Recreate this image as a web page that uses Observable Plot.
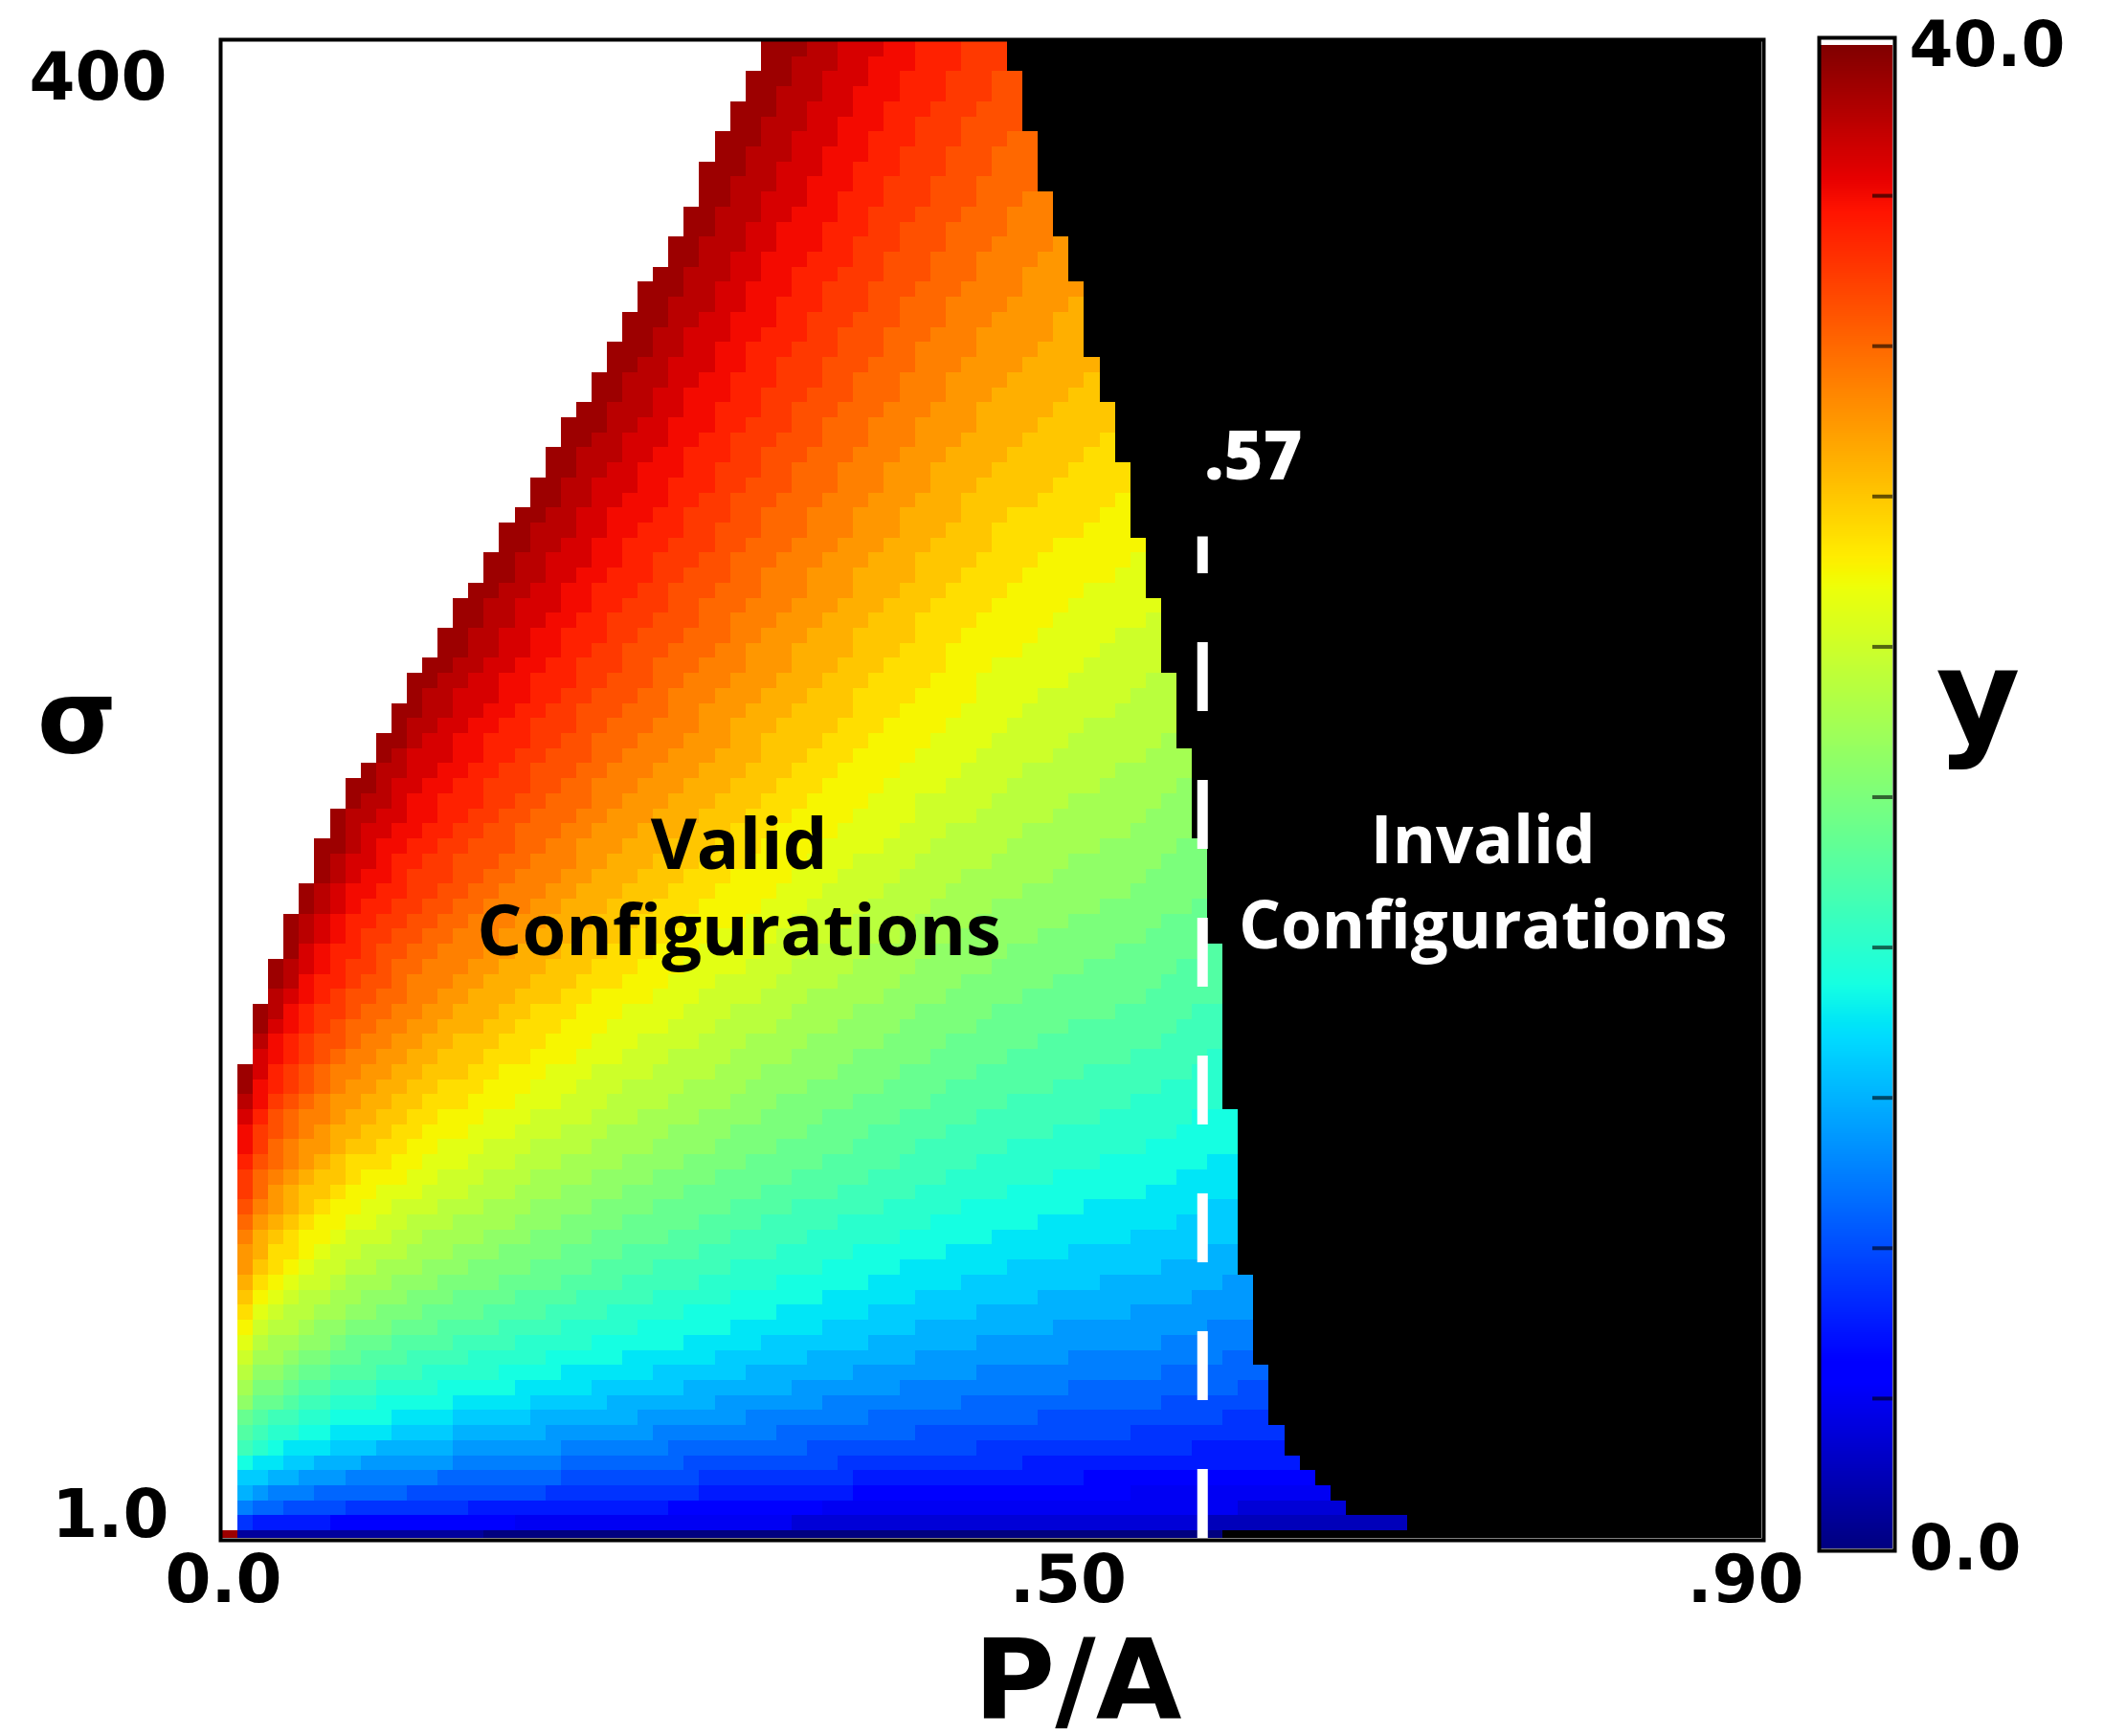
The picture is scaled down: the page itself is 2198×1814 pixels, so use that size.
<!DOCTYPE html>
<html><head><meta charset="utf-8">
<script src="https://cdn.jsdelivr.net/npm/d3@7"></script>
<script src="https://cdn.jsdelivr.net/npm/@observablehq/plot@0.6"></script>
<style>
html,body{margin:0;padding:0;background:#fff;}
#wrap{position:relative;width:2198px;height:1814px;overflow:hidden;background:#fff;}
#main{position:absolute;left:0;top:0;}
#bar{position:absolute;left:1860px;top:0;}
</style></head><body><div id="wrap"><div id="main"></div><div id="bar"></div></div>
<script>
// ---------------- data ----------------
// grid: 100 columns of P/A (0 .. 0.9), 100 rows of sigma (1 .. 400)
const paStep = 0.009;
const nCols = 100;
const nRows = 100;
const sigmaMin = 1;
const sigmaMax = 400;

// highest valid row for each column 0..35 (white region above = y >= 40)
const leftEdgeTopRow = [0, 31, 35, 38, 41, 43, 46, 48, 50, 51, 53, 55, 57, 58, 60, 62, 63, 65, 67, 68,
  70, 72, 74, 75, 77, 79, 81, 83, 84, 86, 88, 91, 93, 95, 97, 99];

// last valid column for each row 0 (bottom) .. 99 (top); beyond it: invalid (black)
const rightEdgeCol = [64, 76, 72, 71, 70, 69, 68, 68, 67, 67, 67, 67,
  66, 66, 66, 66, 66, 66,
  65, 65, 65, 65, 65, 65, 65, 65, 65, 65, 65,
  64, 64, 64, 64, 64, 64, 64, 64, 64, 64, 64,
  63, 63, 63, 63, 63, 63, 63,
  62, 62, 62, 62, 62, 62,
  61, 61, 61, 61, 61,
  60, 60, 60, 60, 60,
  59, 59, 59, 59,
  58, 58, 58, 58, 58,
  57, 57, 57, 57,
  56, 56, 56,
  55, 55, 55, 55, 55,
  54, 54, 54,
  53, 53, 53,
  52, 52, 52, 52,
  51, 51, 51, 51,
  50, 50];

// y estimated at anchor cells (rows x columns)
const anchorRows = [0, 1, 2, 3, 5, 10, 20, 40, 70, 99];
const anchorCols = [0, 1, 2, 3, 5, 8, 12, 16, 20, 25, 30, 35, 40, 45, 50, 55, 60, 65, 70, 77];
const anchorY = [
  [39.5, 1.5, 1.5, 1.5, 1.5, 1.5, 1.4, 1.05, 0.5, 0.5, 0.5, 0.5, 0.5, 0.5, 0.5, 0.5, 0.5, 0.5, 0.5, 0.5],
  [8, 7.2, 6.6, 6.5, 6.3, 5.5, 5.4, 5.2, 4.9, 4.6, 4.4, 4.1, 3.8, 3.6, 3.4, 3.2, 3.1, 2.95, 2.5, 2.3],
  [11, 10.2, 9.3, 9.05, 8.3, 7.95, 7.2, 6.98, 6.6, 6.5, 5.8, 5.2, 4.9, 4.7, 4.6, 4.5, 4.5, 4.1, 3.5, 3.3],
  [13, 12.1, 11.4, 10.9, 10.2, 9.4, 8.95, 8.5, 8.02, 7.4, 7.05, 6.4, 6.04, 5.68, 5.37, 5.15, 4.96, 4.63, 4.49, 4.23],
  [17, 15.67, 14.71, 14.09, 13.2, 12.19, 11.36, 10.76, 10.17, 9.52, 8.97, 8.41, 7.95, 7.49, 7.1, 6.82, 6.57, 6.16, 5.97, 5.65],
  [24, 22.3, 20.95, 20.08, 18.85, 17.43, 16.27, 15.44, 14.6, 13.7, 12.93, 12.14, 11.5, 10.86, 10.32, 9.93, 9.58, 9.0, 8.74, 8.3],
  [33, 31.75, 29.85, 28.63, 26.9, 24.9, 23.28, 22.1, 20.93, 19.66, 18.58, 17.47, 16.57, 15.67, 14.9, 14.36, 13.87, 13.06, 12.7, 12.07],
  [47, 45.17, 42.5, 40.77, 38.33, 35.51, 33.23, 31.58, 29.92, 28.13, 26.61, 25.05, 23.77, 22.5, 21.42, 20.66, 19.96, 18.82, 18.31, 17.42],
  [62, 59.99, 56.47, 54.19, 50.96, 47.24, 44.22, 42.03, 39.85, 37.49, 35.47, 33.41, 31.73, 30.05, 28.62, 27.62, 26.69, 25.18, 24.51, 23.34],
  [74, 71.5, 67.31, 64.6, 60.77, 56.34, 52.75, 50.15, 47.56, 44.75, 42.35, 39.9, 37.9, 35.91, 34.21, 33.01, 31.92, 30.12, 29.32, 27.93]
];

const dashPA = 0.573;        // dashed threshold line
const dashTopSigma = 268;
const xTicks = [0, 0.5, 0.9];
const yTicksTop = [400];
const yTicksBottom = [1];
const barTicks = [4, 8, 12, 16, 20, 24, 28, 32, 36];
const barLabels = [0, 40];
const validLines = [
  {x: 0.302, y: 185.5, t: "Valid"},
  {x: 0.302, y: 162.5, t: "Configurations"}
];
const invalidLines = [
  {x: 0.737, y: 186.5, t: "Invalid"},
  {x: 0.737, y: 164, t: "Configurations"}
];

// ---------------- jet colormap ----------------
const jetStops = [0, 0.11, 0.125, 0.34, 0.35, 0.375, 0.64, 0.65, 0.66, 0.89, 0.91, 1];
const jetColors = ["#000080", "#0000ff", "#0000ff", "#00dbff", "#00e6f7", "#15ffe2", "#eeff08", "#f7f600", "#ffec00", "#ff1300", "#e80000", "#800000"];
const jetScale = d3.scaleLinear().domain(jetStops).range(jetColors).interpolate(d3.interpolateRgb).clamp(true);
const jet = t => jetScale(t);

// ---------------- build table ----------------
const rowStep = (sigmaMax - sigmaMin) / (nRows - 0.5);
const rowSigma = r => sigmaMin + r * rowStep;
const sq = r => Math.sqrt(rowSigma(r));

function fieldAt(c, r) {
  let j = d3.bisectRight(anchorCols, c) - 1;
  j = Math.max(0, Math.min(anchorCols.length - 2, j));
  const tc = (c - anchorCols[j]) / (anchorCols[j + 1] - anchorCols[j]);
  let i = d3.bisectRight(anchorRows, r) - 1;
  i = Math.max(0, Math.min(anchorRows.length - 2, i));
  const tr = (sq(r) - sq(anchorRows[i])) / (sq(anchorRows[i + 1]) - sq(anchorRows[i]));
  const a = anchorY[i], b = anchorY[i + 1];
  const lo = a[j] + (a[j + 1] - a[j]) * tc;
  const hi = b[j] + (b[j + 1] - b[j]) * tc;
  return lo + (hi - lo) * tr;
}
const levelAt = (c, r) => Math.max(0, Math.min(39, Math.floor(fieldAt(c, r))));
function firstCol(r) {
  for (let c = 0; c < leftEdgeTopRow.length; c++) if (leftEdgeTopRow[c] >= r) return c;
  return leftEdgeTopRow.length;
}

const cells = [], blackRuns = [];
for (let r = 0; r < nRows; r++) {
  const y1 = Math.max(sigmaMin, rowSigma(r) - rowStep / 2);
  const y2 = Math.min(sigmaMax, rowSigma(r) + rowStep / 2);
  const c0 = firstCol(r), c1 = rightEdgeCol[r];
  let start = c0, cur = levelAt(c0, r);
  for (let c = c0 + 1; c <= c1 + 1; c++) {
    const lv = c <= c1 ? levelAt(c, r) : null;
    if (lv !== cur) {
      cells.push({x1: start * paStep, x2: c * paStep, y1, y2, level: cur});
      start = c; cur = lv;
    }
  }
  blackRuns.push({x1: (c1 + 1) * paStep, x2: nCols * paStep, y1, y2});
}

// ---------------- main chart ----------------
const fmtX = d => d === 0 ? "0.0" : "." + String(Math.round(d * 100)).padStart(2, "0");
const fmtY = d => d >= 100 ? String(d) : d.toFixed(1);
const axisFont = {tickSize: 0, tickPadding: 17, fontSize: 69, fontWeight: "bold", label: null};

const main = Plot.plot({
  width: 1960, height: 1814,
  marginLeft: 232, marginRight: 120, marginTop: 43, marginBottom: 207,
  x: {domain: [0, 0.9], axis: null},
  y: {domain: [sigmaMin, sigmaMax], axis: null},
  color: {type: "linear", domain: [0, 40], interpolate: jet},
  style: {background: "white", fontFamily: "DejaVu Sans", color: "black"},
  marks: [
    Plot.rect(blackRuns, {x1: "x1", x2: "x2", y1: "y1", y2: "y2", fill: "black", shapeRendering: "crispEdges"}),
    Plot.rect(cells, {x1: "x1", x2: "x2", y1: "y1", y2: "y2", fill: "level", shapeRendering: "crispEdges"}),
    Plot.ruleX([{x: dashPA, y1: sigmaMin, y2: dashTopSigma}], {x: "x", y1: "y1", y2: "y2", stroke: "white", strokeWidth: 11, strokeDasharray: "72,72"}),
    Plot.text([{x: dashPA, y: dashTopSigma, t: ".57"}], {x: "x", y: "y", text: "t", textAnchor: "start", lineAnchor: "middle", dx: 2, dy: -82, fill: "white", fontSize: 70, fontWeight: 800, fontFamily: "Open Sans"}),
    Plot.text(validLines, {x: "x", y: "y", text: "t", fill: "black", fontSize: 74, fontWeight: 700, fontFamily: "Open Sans", lineAnchor: "middle", textAnchor: "middle"}),
    Plot.text(invalidLines, {x: "x", y: "y", text: "t", fill: "white", fontSize: 69, fontWeight: 700, fontFamily: "Open Sans", lineAnchor: "middle", textAnchor: "middle"}),
    Plot.frame({stroke: "black", strokeWidth: 4, inset: -2}),
    Plot.axisX([0], {...axisFont, tickFormat: fmtX, dx: 1}),
    Plot.axisX([0.5], {...axisFont, tickFormat: fmtX, dx: -10}),
    Plot.axisX([0.9], {...axisFont, tickFormat: fmtX, dx: -17}),
    Plot.axisY(yTicksTop, {...axisFont, tickFormat: fmtY, tickPadding: 58, dy: 38}),
    Plot.axisY(yTicksBottom, {...axisFont, tickFormat: fmtY, tickPadding: 56, dy: -24}),
    Plot.text(["σ"], {frameAnchor: "left", lineAnchor: "middle", dx: -152, dy: -74, fontSize: 107, fontWeight: "bold", textAnchor: "middle"}),
    Plot.text([{x: 0.5, t: "P/A"}], {x: "x", text: "t", frameAnchor: "bottom", lineAnchor: "middle", dy: 150, fontSize: 116, fontWeight: "bold", textAnchor: "middle"})
  ]
});
document.getElementById("main").appendChild(main);

// ---------------- colour bar ----------------
const rampStep = 0.05;
const ramp = d3.range(0, 40, rampStep);
const bar = Plot.plot({
  width: 338, height: 1814,
  marginLeft: 42, marginRight: 221, marginTop: 47, marginBottom: 196,
  x: {domain: [0, 1], axis: null},
  y: {domain: [0, 40], axis: null},
  color: {type: "linear", domain: [0, 40], interpolate: jet},
  style: {background: "transparent", fontFamily: "DejaVu Sans", color: "black"},
  marks: [
    Plot.rect(ramp, {x1: () => 0, x2: () => 1, y1: d => d, y2: d => d + rampStep, fill: d => d + rampStep / 2, shapeRendering: "crispEdges"}),
    Plot.ruleY(barTicks, {y: d => d, x1: () => 0.72, x2: () => 1, stroke: "black", strokeOpacity: 0.6, strokeWidth: 4}),
    Plot.frame({stroke: "black", strokeWidth: 4, insetTop: -8, insetLeft: -2, insetRight: -2, insetBottom: -2}),
    Plot.axisY(barLabels, {anchor: "right", tickFormat: d => d.toFixed(1), tickSize: 0, tickPadding: 17, fontSize: 66, fontWeight: "bold", label: null}),
    Plot.text(["y"], {frameAnchor: "right", lineAnchor: "middle", dx: 89, dy: -101, fontSize: 135, fontWeight: "bold", textAnchor: "middle"})
  ]
});
document.getElementById("bar").appendChild(bar);
</script></body></html>
